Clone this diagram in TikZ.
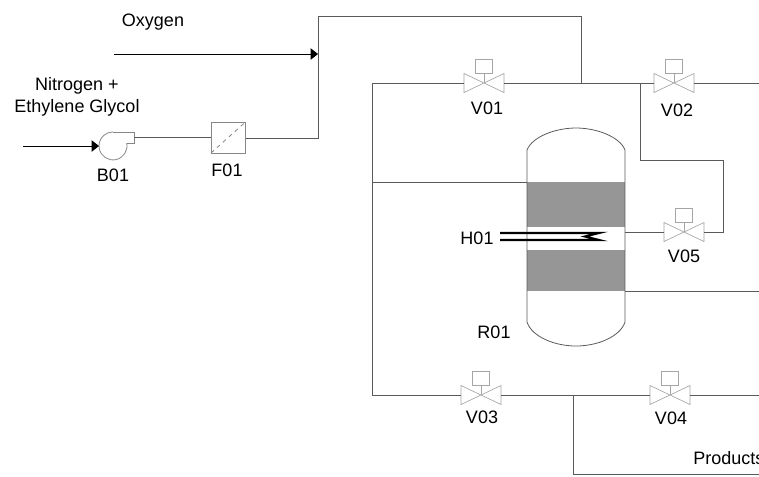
\documentclass[tikz,border=0pt]{standalone}
\usepackage{fontspec}
\setmainfont{Liberation Sans}
\usetikzlibrary{arrows.meta}
\definecolor{pipe}{RGB}{90,90,90}
\definecolor{valve}{RGB}{165,165,165}
\definecolor{bed}{RGB}{150,150,150}
\newcommand{\drawpipe}{\draw[pipe,line width=.6pt]}
\newcommand{\drawfeed}{\draw[line width=.6pt,-{Triangle[length=5.5pt,width=8.5pt]}]}
\newcommand{\drawvalve}[6]{
    \coordinate (#1) at (#2,#3);
    \coordinate (#1l) at (#2-20,#3);
    \coordinate (#1r) at (#2+20,#3);
    \draw[valve,line width=.5pt] (#2-20,#3-9.5)--(#2+20,#3+9.5)--(#2+20,#3-9.5)--(#2-20,#3+9.5)--cycle;
    \draw[valve,line width=.5pt] (#2,#3)--(#2,#3-9.5);
    \draw[valve,line width=.5pt] (#2-8.5,#3-24) rectangle (#2+8.5,#3-9.5);
    \node[tag] (#1tag) at (#5,#6) {#4};
}
\tikzset{tag/.style={font=\fontsize{13.5}{16}\selectfont,inner sep=0pt,align=center}}

\begin{document}
\begin{tikzpicture}[x=.75pt,y=-.75pt]
\useasboundingbox (0,0) rectangle (759,476);
\clip (0,0) rectangle (759,476);
% reactor
\fill[bed] (527,182) rectangle (625,227);
\fill[bed] (527,250) rectangle (625,291);
\draw[pipe,line width=.6pt] (527,322)--(527,150) .. controls (532,137) and (555,128) .. (576,128) .. controls (597,128) and (620,137) .. (625,150)--(625,322) .. controls (620,337) and (597,346) .. (576,346) .. controls (555,346) and (532,337) .. (527,322);
\coordinate (R01l) at (527,182.5);
\coordinate (R01r) at (625,232);
\coordinate (R01b) at (625,291);
\node[tag] (R01) at (494,332) {R01};
\draw[line width=1.6pt] (500,233)--(599,233)--(585,236.5)--(599,240)--(500,240);
\node[tag] (H01) at (477,238.5) {H01};
% valves
\drawvalve{V01}{484}{83}{V01}{487}{108}
\drawvalve{V02}{674}{83}{V02}{677}{110}
\drawvalve{V03}{481}{395}{V03}{482}{417}
\drawvalve{V04}{670}{395}{V04}{671}{418}
\drawvalve{V05}{684}{232}{V05}{684}{256}
% blower and filter
\draw[valve!60!pipe,line width=.6pt] (126.7,143)--(134,143)--(134,132)--(113,132);
\draw[valve!60!pipe,line width=.6pt] (126.7,143) arc[start angle=-12,end angle=270,radius=14];
\coordinate (B01l) at (99,146);
\coordinate (B01r) at (134,137);
\node[tag] (B01) at (113,175) {B01};
\draw[valve!60!pipe,line width=.6pt] (211,122) rectangle (245.5,153);
\draw[valve!60!pipe,line width=.6pt,dashed] (211,153)--(245.5,122);
\coordinate (F01l) at (211,137);
\coordinate (F01r) at (245.5,138);
\node[tag] (F01) at (227,170) {F01};
% feeds
\coordinate (oxin) at (114,54);
\coordinate (oxmix) at (318,54);
\coordinate (nin) at (23,146);
\coordinate (mixb) at (318,138);
\coordinate (mixt) at (318,16);
\coordinate (dropt) at (581,16);
\coordinate (dropb) at (581,83);
\drawfeed (oxin)--(oxmix);
\drawfeed (nin)--(B01l);
\drawpipe (B01r)--(F01l);
\drawpipe (F01r)--(mixb)--(mixt)--(dropt)--(dropb);
\node[tag] (oxygen) at (153,22) {Oxygen};
\node[tag] (nitrogen) at (77,97) {Nitrogen +\\Ethylene Glycol};
% loop
\coordinate (topl) at (372,83);
\coordinate (topr) at (759,83);
\coordinate (botl) at (372,395);
\coordinate (botr) at (759,395);
\coordinate (sidel) at (372,182.5);
\coordinate (prodt) at (573,395);
\coordinate (prodb) at (573,474);
\coordinate (prodr) at (759,474);
\coordinate (outr) at (759,291);
\coordinate (bypt) at (640,83);
\coordinate (bypm) at (640,160);
\coordinate (bypr) at (723,160);
\coordinate (bypb) at (723,232);
\drawpipe (V01l)--(topl)--(botl)--(V03l);
\drawpipe (V01r)--(V02l);
\drawpipe (V02r)--(topr);
\drawpipe (V03r)--(V04l);
\drawpipe (V04r)--(botr);
\drawpipe (sidel)--(R01l);
\drawpipe (R01b)--(outr);
\drawpipe (prodt)--(prodb)--(prodr);
\drawpipe (bypt)--(bypm)--(bypr)--(bypb)--(V05r);
\drawpipe (V05l)--(R01r);
\node[tag,anchor=west] (products) at (693,458) {Products};
\end{tikzpicture}
\end{document}
